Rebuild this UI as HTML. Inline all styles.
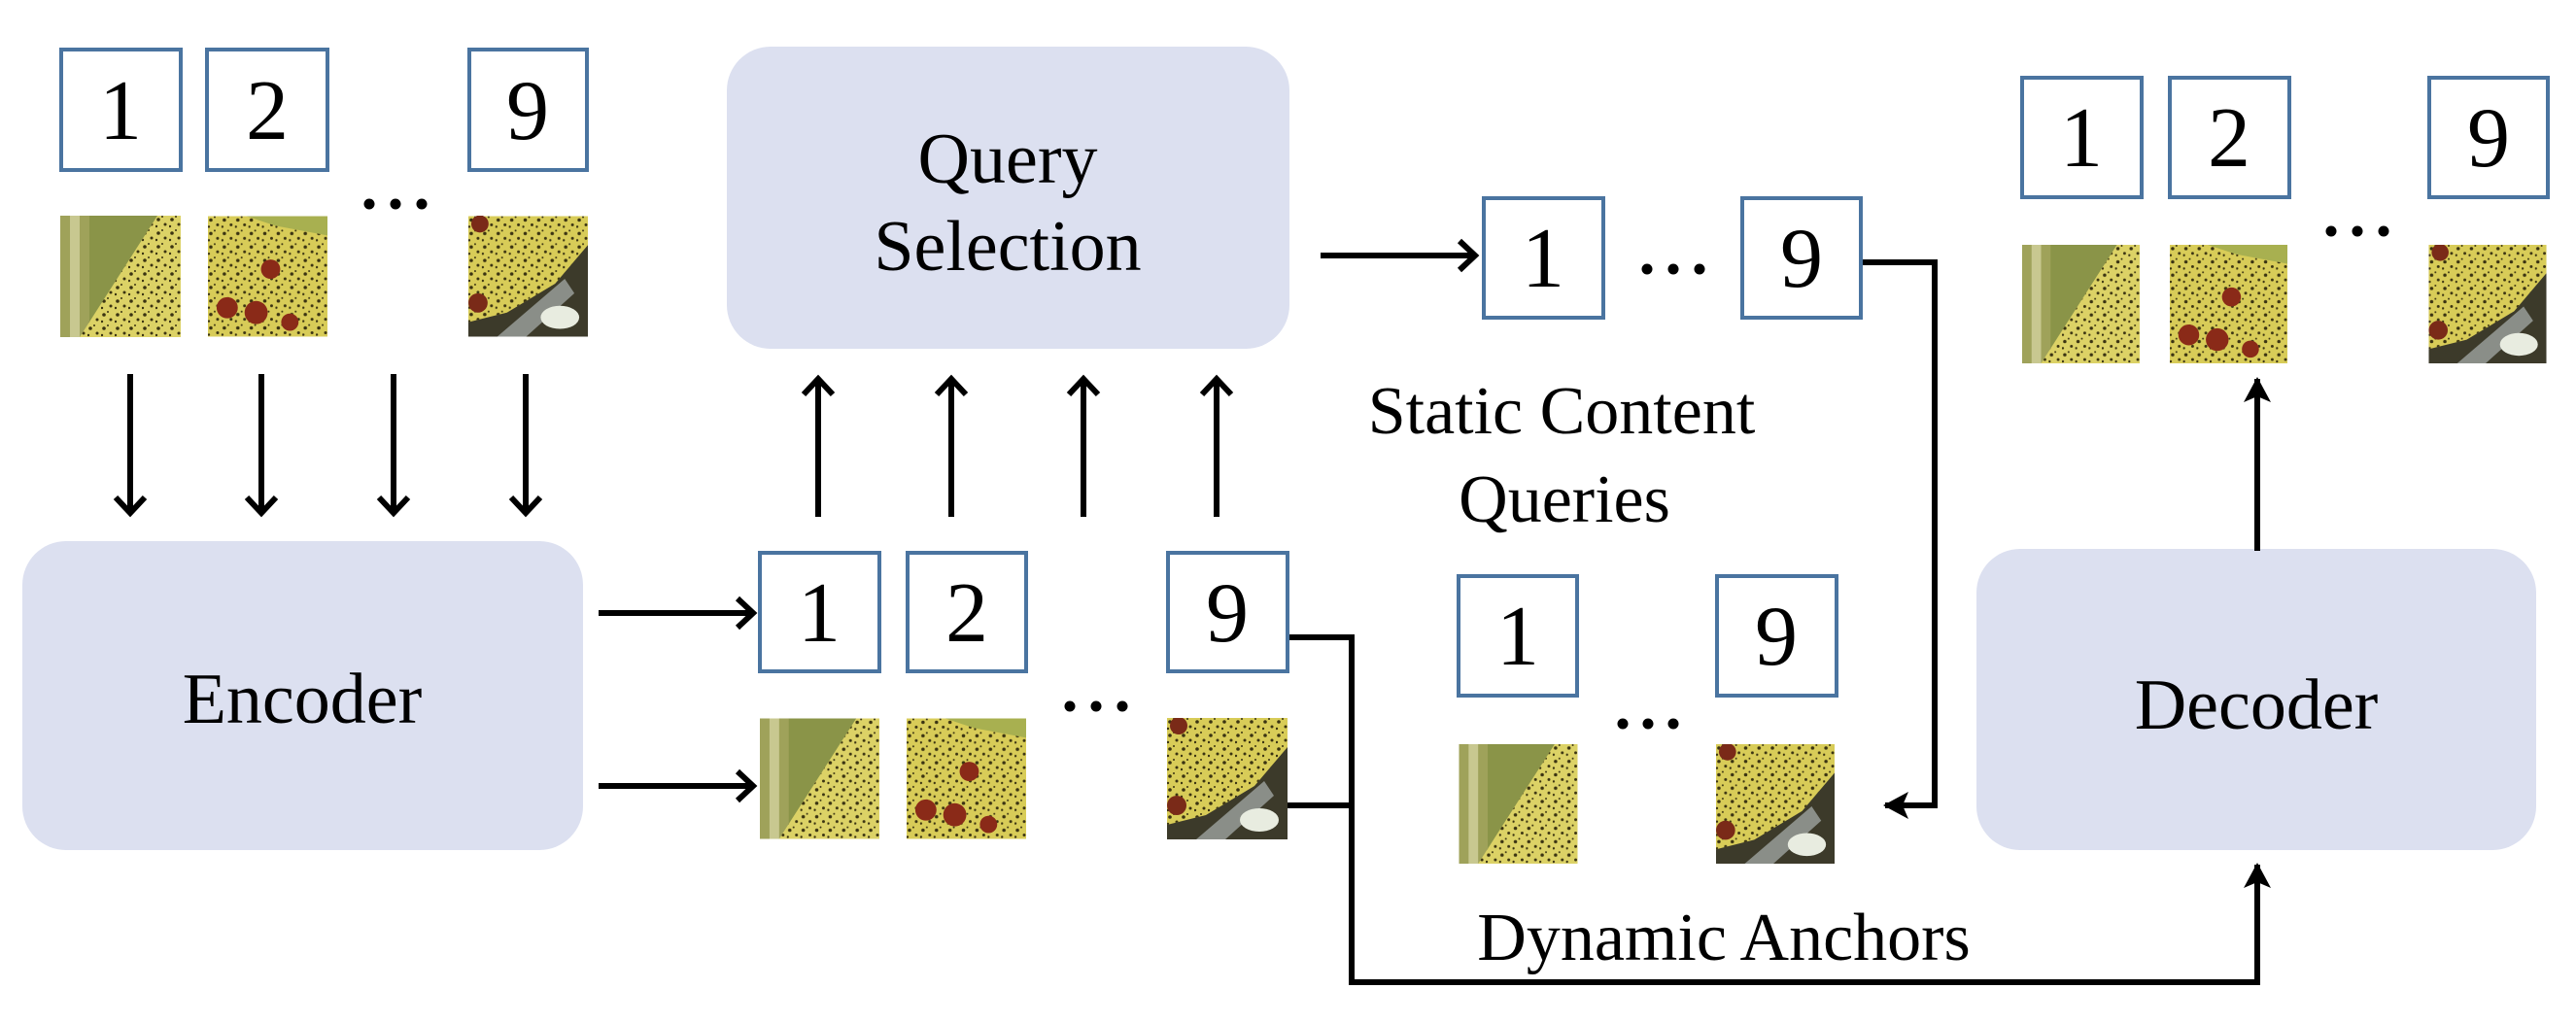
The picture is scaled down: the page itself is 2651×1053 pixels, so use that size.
<!DOCTYPE html>
<html><head><meta charset="utf-8"><style>
html,body{margin:0;padding:0;background:#fff;}
svg{display:block;font-family:"Liberation Serif","Times New Roman",Times,"DejaVu Serif",serif;}
</style></head><body>
<svg width="2651" height="1053" viewBox="0 0 2651 1053" xmlns="http://www.w3.org/2000/svg" font-family="'Liberation Serif', 'Times New Roman', Times, serif">
<defs>
<marker id="open" markerWidth="12" markerHeight="12" refX="9" refY="6" orient="auto" markerUnits="userSpaceOnUse" viewBox="0 0 12 12" style="overflow:visible">
  <path d="M-7,-9 L9,6 L-7,21" fill="none" stroke="#000" stroke-width="6"/>
</marker>
<marker id="fill" markerWidth="30" markerHeight="30" refX="0" refY="0" orient="auto" markerUnits="userSpaceOnUse" viewBox="-30 -15 30 30" style="overflow:visible">
  <path d="M-24,-14 L2,0 L-24,14 L-18,0 Z" fill="#000"/>
</marker>
<pattern id="spk" width="14" height="14" patternUnits="userSpaceOnUse">
  <circle cx="3" cy="4" r="1.8" fill="#3a3312"/><circle cx="10" cy="9" r="1.5" fill="#3a3312"/><circle cx="7" cy="1" r="1" fill="#3a3312"/><circle cx="1" cy="11" r="1.2" fill="#3a3312"/>
</pattern>
<symbol id="imA" viewBox="0 0 124 125">
  <rect width="124" height="125" fill="#8a9448"/>
  <rect x="0" y="0" width="30" height="125" fill="#9fa25a"/>
  <rect x="10" y="0" width="10" height="125" fill="#c8c890"/>
  <polygon points="100,0 124,0 124,125 20,125" fill="#dcd266"/>
  <polygon points="100,0 124,0 124,125 20,125" fill="url(#spk)"/>
</symbol>
<symbol id="imB" viewBox="0 0 124 125">
  <rect width="124" height="125" fill="#d8cc58"/>
  <rect width="124" height="125" fill="url(#spk)"/>
  <polygon points="40,0 124,0 124,20 70,10" fill="#a8b050"/>
  <circle cx="65" cy="55" r="10" fill="#8a2a18"/>
  <circle cx="20" cy="95" r="11" fill="#8a2a18"/>
  <circle cx="50" cy="100" r="12" fill="#8a2a18"/>
  <circle cx="85" cy="110" r="9" fill="#8a2a18"/>
</symbol>
<symbol id="imC" viewBox="0 0 124 125">
  <rect width="124" height="125" fill="#3c3a2a"/>
  <polygon points="0,0 124,0 124,30 90,70 40,100 0,110" fill="#d8cc58"/>
  <polygon points="0,0 124,0 124,30 90,70 40,100 0,110" fill="url(#spk)"/>
  <circle cx="12" cy="8" r="9" fill="#7a2a18"/><circle cx="10" cy="90" r="10" fill="#7a2a18"/>
  <polygon points="30,125 100,65 110,80 60,125" fill="#8a8e88"/>
  <ellipse cx="95" cy="105" rx="20" ry="12" fill="#e8ece0"/>
</symbol>
</defs>

<rect x="748" y="48" width="579" height="311" rx="45" fill="#dce0f0"/>
<rect x="23" y="557" width="577" height="318" rx="45" fill="#dce0f0"/>
<rect x="2034" y="565" width="576" height="310" rx="45" fill="#dce0f0"/>
<g font-family="'Liberation Serif', 'Times New Roman', Times, serif" fill="#000">
<text x="1037" y="188" font-size="74" text-anchor="middle">Query</text>
<text x="1037" y="278" font-size="74" text-anchor="middle">Selection</text>
<text x="311" y="744" font-size="74" text-anchor="middle">Encoder</text>
<text x="2322" y="750" font-size="74" text-anchor="middle">Decoder</text>
</g>

<g fill="#fff" stroke="#4a74a0" stroke-width="4">
  <rect x="63" y="51" width="123" height="124"/><rect x="213" y="51" width="124" height="124"/><rect x="483" y="51" width="121" height="124"/>
  <rect x="782" y="569" width="123" height="122"/><rect x="934" y="569" width="122" height="122"/><rect x="1202" y="569" width="123" height="122"/>
  <rect x="1527" y="204" width="123" height="123"/><rect x="1793" y="204" width="122" height="123"/>
  <rect x="1501" y="593" width="122" height="123"/><rect x="1767" y="593" width="123" height="123"/>
  <rect x="2081" y="80" width="123" height="123"/><rect x="2233" y="80" width="123" height="123"/><rect x="2500" y="80" width="122" height="123"/>
</g>
<g font-size="88" text-anchor="middle" font-family="'Liberation Serif', 'Times New Roman', Times, serif" fill="#000">
  <text x="124" y="143">1</text><text x="275" y="143">2</text><text x="543" y="143">9</text>
  <text x="843" y="660">1</text><text x="995" y="660">2</text><text x="1263" y="660">9</text>
  <text x="1588" y="295">1</text><text x="1854" y="295">9</text>
  <text x="1562" y="684">1</text><text x="1828" y="684">9</text>
  <text x="2142" y="171">1</text><text x="2294" y="171">2</text><text x="2561" y="171">9</text>
</g>

<use href="#imA" x="62" y="222" width="124" height="125"/>
<use href="#imB" x="214" y="222" width="123" height="125"/>
<use href="#imC" x="482" y="222" width="123" height="125"/>
<use href="#imA" x="782" y="739" width="123" height="125"/>
<use href="#imB" x="933" y="739" width="123" height="125"/>
<use href="#imC" x="1201" y="739" width="124" height="125"/>
<use href="#imA" x="1501" y="766" width="123" height="123"/>
<use href="#imC" x="1766" y="766" width="122" height="123"/>
<use href="#imA" x="2080" y="252" width="123" height="122"/>
<use href="#imB" x="2232" y="252" width="123" height="122"/>
<use href="#imC" x="2499" y="252" width="122" height="122"/>

<g fill="#000">
  <circle cx="380" cy="210" r="5.5"/><circle cx="407" cy="210" r="5.5"/><circle cx="434" cy="210" r="5.5"/>
  <circle cx="1101" cy="727" r="5.5"/><circle cx="1128" cy="727" r="5.5"/><circle cx="1155" cy="727" r="5.5"/>
  <circle cx="1695" cy="277" r="5.5"/><circle cx="1722" cy="277" r="5.5"/><circle cx="1749" cy="277" r="5.5"/>
  <circle cx="1670" cy="745" r="5.5"/><circle cx="1696" cy="745" r="5.5"/><circle cx="1722" cy="745" r="5.5"/>
  <circle cx="2399" cy="238" r="5.5"/><circle cx="2426" cy="238" r="5.5"/><circle cx="2453" cy="238" r="5.5"/>
</g>

<g stroke="#000" stroke-width="6" fill="none">
  <path d="M134,385 V528" marker-end="url(#open)"/>
  <path d="M269,385 V528" marker-end="url(#open)"/>
  <path d="M405,385 V528" marker-end="url(#open)"/>
  <path d="M541,385 V528" marker-end="url(#open)"/>
  <path d="M842,532 V390" marker-end="url(#open)"/>
  <path d="M979,532 V390" marker-end="url(#open)"/>
  <path d="M1115,532 V390" marker-end="url(#open)"/>
  <path d="M1252,532 V390" marker-end="url(#open)"/>
  <path d="M616,631 H775" marker-end="url(#open)"/>
  <path d="M616,809 H775" marker-end="url(#open)"/>
  <path d="M1359,263 H1518" marker-end="url(#open)"/>
</g>
<g stroke="#000" stroke-width="6" fill="none">
  <path d="M1917,270 H1991 V829 H1940" marker-end="url(#fill)"/>
  <path d="M1327,656 H1391 V1011 H2323 V890" marker-end="url(#fill)"/>
  <path d="M1325,829 H1391"/>
  <path d="M2323,567 V390" marker-end="url(#fill)"/>
</g>

<g font-family="'Liberation Serif', 'Times New Roman', Times, serif" fill="#000">
<text x="1607" y="446" font-size="70" text-anchor="middle">Static Content</text>
<text x="1610" y="537" font-size="70" text-anchor="middle">Queries</text>
<text x="1774" y="988" font-size="70" text-anchor="middle">Dynamic Anchors</text>
</g>
</svg>
</body></html>
